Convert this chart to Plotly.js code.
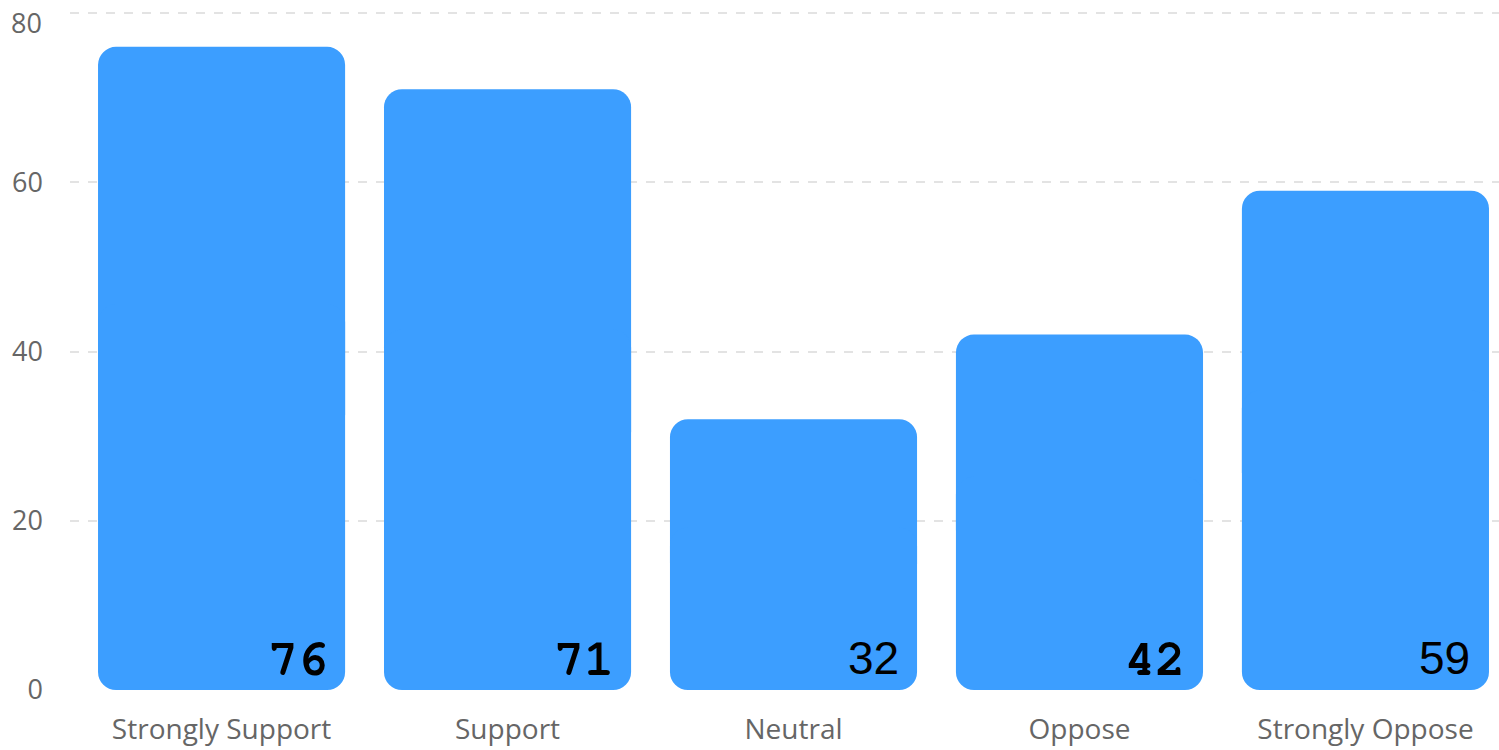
<!DOCTYPE html>
<html>
<head>
<meta charset="utf-8">
<script src="https://cdn.plot.ly/plotly-3.0.1.min.js"></script>
<style>html,body{margin:0;padding:0;background:#fff}#chart{width:1499px;height:750px}</style>
</head>
<body>
<div id="chart"></div>
<script>
const categories = ["Strongly Support", "Support", "Neutral", "Oppose", "Strongly Oppose"];
const values = [76, 71, 32, 42, 59];
const monoFont = "Nimbus Mono PS, FreeMono, Courier, DejaVu Serif, serif";
const sansFont = "Liberation Sans, Arial, sans-serif";
const labelFonts = [monoFont, monoFont, sansFont, monoFont, sansFont];
const yTicks = [0, 20, 40, 60, 80];
const yTickText = ["0", "20", "40", "60", ""];
const topTickLabel = "80";

const barColor = "#3c9eff";

// top half (rounded top corners)
const topHalf = {
  type: "bar",
  x: categories,
  base: values.map(v => v * 0.4),
  y: values.map(v => v * 0.6),
  marker: {color: barColor, cornerradius: 18, line: {width: 0}},
  hoverinfo: "skip",
  showlegend: false
};
// bottom half (drawn downward so its far end, the bottom, gets rounded)
const bottomHalf = {
  type: "bar",
  x: categories,
  base: values.map(v => v * 0.6),
  y: values.map(v => -v * 0.6),
  marker: {color: barColor, cornerradius: 18, line: {width: 0}},
  hoverinfo: "skip",
  showlegend: false
};

const annotations = categories.map((c, i) => ({
  x: c, y: 0, xref: "x", yref: "y",
  text: String(values[i]),
  showarrow: false,
  xanchor: "right", yanchor: "bottom",
  xshift: labelFonts[i] === sansFont ? 107 : 108,
  yshift: labelFonts[i] === sansFont ? 4 : 3,
  font: {family: labelFonts[i], size: labelFonts[i] === sansFont ? 46 : 50, color: "#000",
         weight: labelFonts[i] === sansFont ? "normal" : "bold"}
}));
annotations.push({
  x: 0, xref: "paper", y: 80, yref: "y",
  text: topTickLabel, showarrow: false,
  xanchor: "right", yanchor: "middle",
  xshift: -26, yshift: -9,
  font: {family: "Open Sans, Noto Sans, sans-serif", size: 27, color: "#666"}
});

const layout = {
  width: 1499, height: 750,
  margin: {l: 70, r: 0, t: 12, b: 60},
  paper_bgcolor: "#fff", plot_bgcolor: "#fff",
  barmode: "overlay",
  bargap: 0.136,
  showlegend: false,
  hovermode: false,
  xaxis: {
    type: "category",
    range: [-0.53, 4.467],
    showgrid: false, zeroline: false, showline: false,
    ticks: "", ticklabelstandoff: 20,
    tickfont: {family: "Open Sans, Noto Sans, sans-serif", size: 28, color: "#666"}
  },
  yaxis: {
    range: [0, 80.12],
    tickvals: yTicks,
    ticktext: yTickText,
    showgrid: true, gridcolor: "#e3e3e3", griddash: "dash", gridwidth: 2,
    zeroline: false, showline: false, ticks: "",
    ticklabelstandoff: 26,
    tickfont: {family: "Open Sans, Noto Sans, sans-serif", size: 27, color: "#666"}
  },
  annotations: annotations
};

Plotly.newPlot("chart", [topHalf, bottomHalf], layout, {staticPlot: true, displayModeBar: false});
</script>
</body>
</html>
